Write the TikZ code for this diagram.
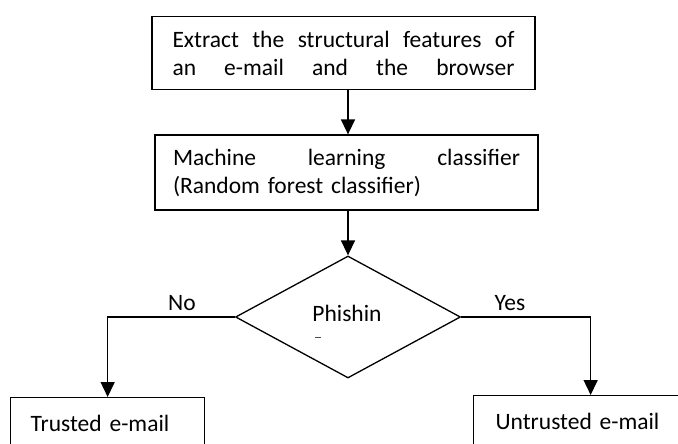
\documentclass[tikz,border=0pt]{standalone}
\usepackage{fontspec}
\setmainfont{Carlito}
\usepackage{xcolor}
\usetikzlibrary{arrows.meta,positioning,shapes.geometric}

\begin{document}
\begin{tikzpicture}[
  x=1pt, y=-1pt,
  font=\fontsize{23.5}{28}\selectfont,
  stepbox/.style={draw=black, line width=1.3pt, fill=white, inner sep=0pt},
  decide/.style={diamond, draw=black, line width=1.3pt, minimum width=225pt, minimum height=122pt, inner sep=0pt},
  arr/.style={-{Triangle[length=15pt, width=14pt]}, draw=black, line width=1.5pt},
  lbl/.style={inner sep=0pt}
]
\useasboundingbox (0,0) rectangle (678,444);
\clip (0,0) rectangle (678,444);

% process boxes
\node[stepbox, minimum width=383pt, minimum height=73pt, text width=342pt, align=left] (extract) at (343.5, 53)
  {Extract\hfill the\hfill structural\hfill features\hfill of\\an\hfill e-mail\hfill and\hfill the\hfill browser};
\node[stepbox, minimum width=383pt, minimum height=75pt, text width=347pt, align=left] (classify) at (346.5, 172.5)
  {Machine\hfill learning\hfill classifier\\(Random forest classifier)};

% decision
\node[decide] (phish) at (348, 317) {};
\node[lbl] (phtext) at (347, 313) {Phishin};
\draw[line width=0.8pt, black!70] (315,337) -- (321,337);

% outcome boxes
\node[stepbox, anchor=north west, minimum width=194pt, minimum height=52pt, text width=154pt, inner xsep=20pt, align=left] (trusted) at (10, 397) {Trusted e-mail};
\node[stepbox, anchor=north west, minimum width=230pt, minimum height=52pt, text width=190pt, inner xsep=22pt, align=left] (untrusted) at (473, 395) {Untrusted e-mail};

% arrows
\draw[arr] (extract.south -| phish.north) -- (classify.north -| phish.north);
\draw[arr] (classify.south -| phish.north) -- (phish.north);
\draw[arr] (phish.west) -| (trusted.north);
\draw[arr] (phish.east) -| (untrusted.north);

% branch labels
\node[lbl] (no) at (182, 303) {No};
\node[lbl] (yes) at (510, 303) {Yes};

\end{tikzpicture}
\end{document}
